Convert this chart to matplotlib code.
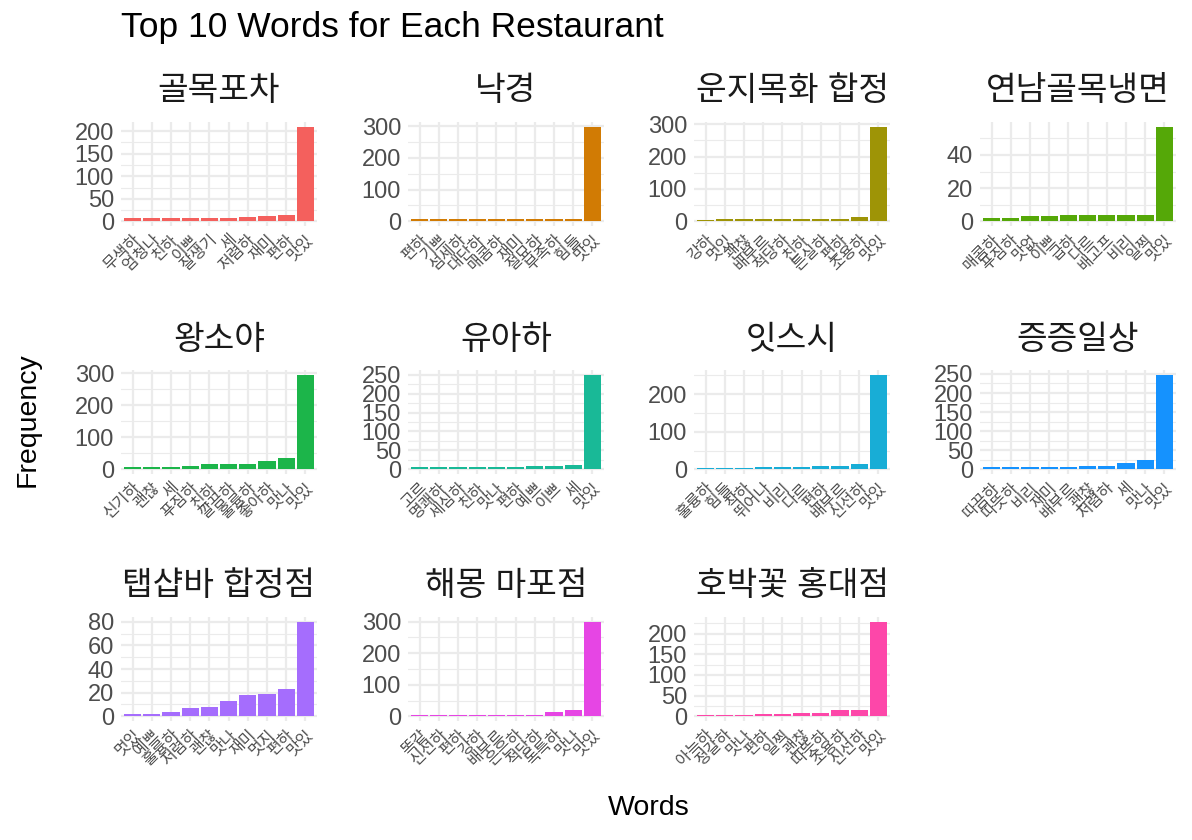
import matplotlib
matplotlib.use("Agg")
import matplotlib.pyplot as plt
from matplotlib.ticker import FixedLocator
import numpy as np

restaurants = ["골목포차", "낙경", "운지목화 합정", "연남골목냉면",
               "왕소야", "유아하", "잇스시", "증증일상",
               "탭샵바 합정점", "해몽 마포점", "호박꽃 홍대점"]

words = [
    ["무색하", "엄청나", "친하", "이쁘", "잘생기", "세", "저렴하", "재미", "편하", "맛있"],
    ["편하", "기쁘", "섬세하", "대단하", "매콤하", "재미", "절묘하", "부족하", "힘들", "맛있"],
    ["강하", "멋있", "괜찮", "배부르", "적당하", "친하", "튼실하", "편하", "조용하", "맛있"],
    ["매콤하", "푸짐하", "맛없", "이쁘", "급하", "다르", "배고프", "비리", "일찍", "맛있"],
    ["신기하", "괜찮", "세", "푸짐하", "친하", "깔끔하", "훌륭하", "좋아하", "맛나", "맛있"],
    ["고르", "명쾌하", "세심하", "친하", "맛나", "편하", "예쁘", "이쁘", "세", "맛있"],
    ["훌륭하", "힘들", "착하", "뛰어나", "비리", "다르", "편하", "배부르", "신선하", "맛있"],
    ["따끔하", "따뜻하", "비리", "재미", "배부르", "괜찮", "저렴하", "세", "맛나", "맛있"],
    ["멋있", "예쁘", "훌륭하", "저렴하", "괜찮", "맛나", "재미", "멋지", "편하", "맛있"],
    ["똑같", "신선하", "편하", "강하", "배부르", "은은하", "적당하", "독특하", "맛나", "맛있"],
    ["아늑하", "정갈하", "맛나", "편하", "일찍", "괜찮", "따뜻하", "조용하", "신선하", "맛있"],
]

counts = [
    [7, 7, 7, 7, 7, 7, 9, 11, 13, 210],
    [6, 6, 6, 6, 6, 6, 6, 6, 6, 298],
    [3, 6, 6, 6, 6, 6, 6, 6, 12, 292],
    [2, 2, 3, 3, 4, 4, 4, 4, 4, 57],
    [7, 7, 7, 10, 17, 17, 17, 27, 36, 295],
    [6, 6, 6, 6, 6, 6, 9, 9, 12, 250],
    [4, 4, 4, 6, 6, 6, 9, 9, 14, 252],
    [6, 6, 6, 6, 6, 9, 9, 17, 24, 248],
    [2, 2, 4, 7, 8, 13, 18, 19, 23, 80],
    [5, 5, 5, 5, 5, 5, 5, 15, 21, 300],
    [4, 4, 4, 6, 6, 9, 9, 16, 16, 229],
]

y_steps = [50, 100, 100, 20, 100, 50, 100, 50, 20, 100, 50]

colors = ["#F4605D", "#D17B04", "#9E9406", "#55A808", "#1CB54A", "#19B997",
          "#18ADD6", "#1592FE", "#A56DFD", "#E645E4", "#FD47A9"]

plt.rcParams['font.family'] = ['Liberation Sans', 'Noto Sans CJK KR', 'DejaVu Sans']

W, H = 1192, 840
fig = plt.figure(figsize=(W / 100, H / 100), dpi=100)

col_left = [121, 408, 694, 980]
row_top = [122, 370, 617]
pw, ph = 196, 104
grid_col = "#EBEBEB"
tick_col = "#4D4D4D"

for i, name in enumerate(restaurants):
    r, c = divmod(i, 4)
    ax = fig.add_axes([col_left[c] / W, 1 - (row_top[r] + ph) / H, pw / W, ph / H])
    vals = counts[i]
    x = np.arange(len(vals))
    ax.bar(x, vals, width=0.9, color=colors[i], zorder=2)

    top = max(vals)
    lo, hi = -0.05 * top, 1.05 * top
    ax.set_ylim(lo, hi)
    ax.set_xlim(-0.6, len(vals) - 0.4)

    # major breaks inside the expanded range, minor ones halfway
    step = y_steps[i]
    major = np.arange(0, hi + 1e-9, step)
    minor = np.arange(step / 2, hi, step)
    ax.set_yticks(major)
    ax.set_yticklabels([f"{int(v)}" for v in major], fontsize=17, color=tick_col)
    ax.yaxis.set_minor_locator(FixedLocator(minor))
    ax.set_xticks(x)
    ax.set_xticklabels(words[i], rotation=45, ha="right", rotation_mode="anchor",
                       fontsize=11.5, color=tick_col)

    ax.tick_params(which="both", length=0)
    ax.tick_params(axis="y", pad=5)
    ax.tick_params(axis="x", pad=4)
    for s in ax.spines.values():
        s.set_visible(False)
    ax.set_axisbelow(True)
    ax.grid(which="major", color=grid_col, lw=1.6)
    ax.grid(which="minor", axis="y", color=grid_col, lw=0.8)

    ax.text(0.5, 1 + 30 / ph, name, transform=ax.transAxes, ha="center", va="center",
            fontsize=24, color="#1A1A1A")

fig.text(121 / W, 1 - 28 / H, "Top 10 Words for Each Restaurant", ha="left", va="center",
         fontsize=25.5, color="black")
fig.text(649 / W, 1 - 808 / H, "Words", ha="center", va="center", fontsize=20.5)
fig.text(28 / W, 1 - 420 / H, "Frequency", ha="center", va="center", rotation=90, fontsize=20.5)

fig.savefig("out.png", dpi=100)
